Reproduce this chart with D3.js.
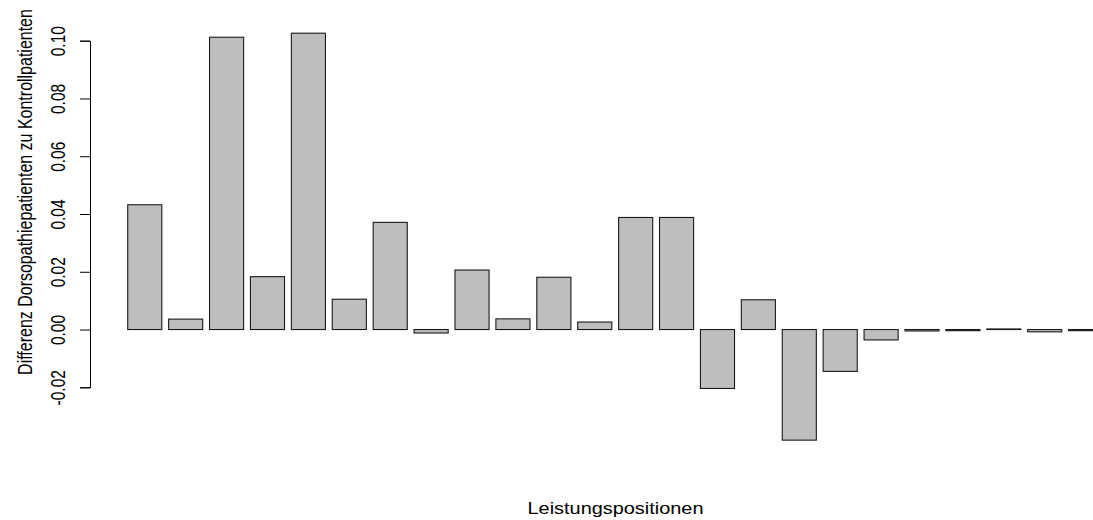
<!DOCTYPE html>
<html>
<head>
<meta charset="utf-8">
<script src="https://cdn.jsdelivr.net/npm/d3@7"></script>
<style>
  html, body { margin: 0; padding: 0; background: #fff; }
  svg { display: block; }
  text { font-family: "Liberation Sans", Arial, Helvetica, sans-serif; fill: #000; }
</style>
</head>
<body>
<svg id="chart" width="1093" height="520"></svg>
<script>
// Differences per billing position (Leistungsposition)
const positions = d3.range(1, 25).map(String);
const differences = [
  0.0432, 0.0036, 0.1012, 0.0183, 0.1026, 0.0105, 0.0371, -0.0012,
  0.0206, 0.0037, 0.0181, 0.0026, 0.0388, 0.0388, -0.0204, 0.0103,
  -0.0383, -0.0145, -0.0036, -0.0005, -0.0004, 0.0002, -0.0008, -0.0004
];
const yTicks = [-0.02, 0.00, 0.02, 0.04, 0.06, 0.08, 0.10];
const yTitle = "Differenz Dorsopathiepatienten zu Kontrollpatienten";
const xTitle = "Leistungspositionen";

// the device is wider than tall in glyph terms: text is stretched horizontally
const stretch = 1.245;

const svg = d3.select("#chart");

// barplot-style units: each bar is 1 wide with 0.2 spacing before it
const space = 0.2;
const x = d3.scaleLinear().domain([0, 29]).range([120.9, 120.9 + 29 * 34.09]);
const y = d3.scaleLinear().domain([-0.02, 0.10]).range([387.3, 40.7]);

svg.append("g")
  .selectAll("rect")
  .data(differences)
  .join("rect")
  .attr("x", (d, i) => x(space + i * (1 + space)))
  .attr("width", x(1) - x(0))
  .attr("y", d => y(Math.max(0, d)))
  .attr("height", d => Math.max(Math.abs(y(d) - y(0)), 0.01))
  .attr("fill", "#bebebe")
  .attr("stroke", "#1a1a1a")
  .attr("stroke-width", 1.1);

// y axis, labels parallel to the axis
const fmt = d3.format(".2f");
const axis = d3.axisLeft(y)
  .tickValues(yTicks)
  .tickFormat(d => fmt(d).replace("\u2212", "-"))
  .tickSize(10)
  .tickPadding(0);

const gy = svg.append("g")
  .attr("transform", "translate(90,0)")
  .call(axis);
gy.select(".domain").attr("stroke", "#000");
gy.selectAll(".tick line").attr("stroke", "#000");
gy.selectAll(".tick text")
  .attr("x", null).attr("dy", null)
  .attr("transform", `translate(-25,0) scale(${stretch},1) rotate(-90)`)
  .attr("text-anchor", "middle")
  .attr("font-size", 15.5)
  .style("font-family", "'Liberation Sans', Arial, sans-serif")
  .attr("fill", "#000");

svg.append("text")
  .attr("transform", `translate(31.5,192) scale(${stretch},1) rotate(-90)`)
  .attr("text-anchor", "middle")
  .attr("font-size", 16)
  .text(yTitle);

svg.append("text")
  .attr("transform", `translate(615.5,514) scale(${stretch},1)`)
  .attr("text-anchor", "middle")
  .attr("font-size", 16)
  .text(xTitle);
</script>
</body>
</html>
